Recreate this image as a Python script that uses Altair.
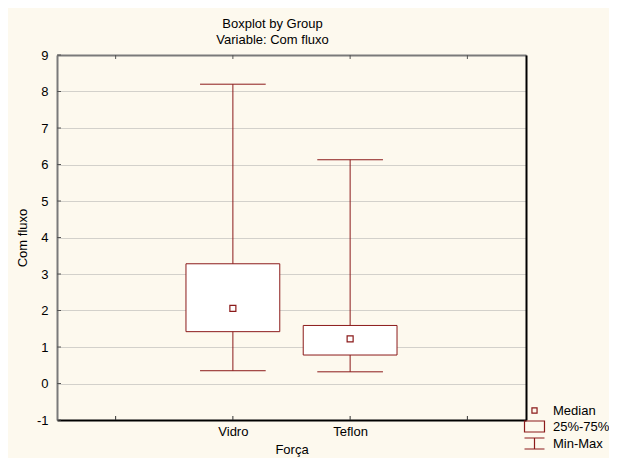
import altair as alt
import pandas as pd

# ---- data ----
groups = ["Vidro", "Teflon"]
mins = [0.35, 0.32]
q1s = [1.42, 0.78]
medians = [2.06, 1.22]
q3s = [3.28, 1.59]
maxs = [8.20, 6.13]

x_slots = ["", "Vidro", "Teflon", ""]          # category slots along the x axis
y_ticks = list(range(-1, 10))
legend_labels = ["Median", "25%-75%", "Min-Max"]

RED = "#8B1A1A"
FONT = "Liberation Sans"
BG = "#FDF9EE"

slot_pos = [i + 0.5 for i in range(len(x_slots))]
df = pd.DataFrame({
    "group": groups,
    "pos": [x_slots.index(g) + 0.5 for g in groups],
    "min": mins, "q1": q1s, "median": medians, "q3": q3s, "max": maxs,
})

xs = alt.Scale(domain=[0, len(x_slots)], nice=False, zero=False)
ys = alt.Scale(domain=[y_ticks[0], y_ticks[-1]], nice=False, zero=False)

label_expr = ""
for p, s in zip(slot_pos, x_slots):
    label_expr += f"datum.value == {p} ? '{s}' : "
label_expr += "''"

x_axis_main = alt.Axis(
    orient="bottom", values=slot_pos, labelExpr=label_expr, title="Força",
    ticks=False, grid=False, domainColor="#000000", domainWidth=2,
    labelFontSize=13, labelPadding=5, labelColor="#000", labelFont=FONT,
    titleFontSize=13, titleFontWeight="normal", titlePadding=5, titleColor="#000", titleFont=FONT,
)
y_axis_main = alt.Axis(
    orient="left", values=y_ticks, labelExpr="'' + datum.value", title="Com fluxo", ticks=False,
    grid=True, gridColor="#A8A8A8", gridDash=[1, 1], gridWidth=1,
    domainColor="#7A7A7A", domainWidth=2,
    labelFontSize=13, labelPadding=9, labelColor="#000", labelFont=FONT,
    titleFontSize=13, titleFontWeight="normal", titlePadding=7, titleColor="#000", titleFont=FONT,
)
x_axis_top = alt.Axis(orient="top", labels=False, ticks=False, title=None, grid=False,
                      domainColor="#7A7A7A", domainWidth=2)
y_axis_right = alt.Axis(orient="right", labels=False, ticks=False, title=None, grid=False,
                        domainColor="#000000", domainWidth=2)

base = alt.Chart(df)

whisker = base.mark_rule(color=RED, strokeWidth=1).encode(
    x=alt.X("pos:Q", scale=xs, axis=x_axis_main),
    y=alt.Y("min:Q", scale=ys, axis=y_axis_main),
    y2="max:Q",
)

box = base.transform_calculate(lo="datum.pos - 0.4", hi="datum.pos + 0.4").mark_bar(
    fill="white", stroke=RED, strokeWidth=1
).encode(
    x=alt.X("lo:Q", scale=xs, axis=x_axis_top),
    x2="hi:Q",
    y=alt.Y("q1:Q", scale=ys, axis=y_axis_right),
    y2="q3:Q",
)

caps_base = base.transform_calculate(clo="datum.pos - 0.28", chi="datum.pos + 0.28")
cap_min = caps_base.mark_rule(color=RED, strokeWidth=1).encode(
    x=alt.X("clo:Q", scale=xs, axis=None), x2="chi:Q",
    y=alt.Y("min:Q", scale=ys, axis=None),
)
cap_max = caps_base.mark_rule(color=RED, strokeWidth=1).encode(
    x=alt.X("clo:Q", scale=xs, axis=None), x2="chi:Q",
    y=alt.Y("max:Q", scale=ys, axis=None),
)

median = base.mark_square(size=36, filled=True, fill="white", stroke=RED,
                          strokeWidth=1.2, opacity=1).encode(
    x=alt.X("pos:Q", scale=xs, axis=None),
    y=alt.Y("median:Q", scale=ys, axis=None),
)

# inward tick marks on the frame
ytick_df = pd.DataFrame({"v": y_ticks})
xtick_df = pd.DataFrame({"v": slot_pos})
left_ticks = alt.Chart(ytick_df).mark_rule(color="#555555", strokeWidth=1, x2Offset=4).encode(
    x=alt.X(datum=0, scale=xs, axis=None), x2=alt.X2(datum=0),
    y=alt.Y("v:Q", scale=ys, axis=None),
)
top_ticks = alt.Chart(xtick_df).mark_rule(color="#555555", strokeWidth=1, y2Offset=4).encode(
    x=alt.X("v:Q", scale=xs, axis=None),
    y=alt.Y(datum=y_ticks[-1], scale=ys, axis=None), y2=alt.Y2(datum=y_ticks[-1]),
)
bottom_ticks = alt.Chart(xtick_df).mark_rule(color="#333333", strokeWidth=1, y2Offset=-4).encode(
    x=alt.X("v:Q", scale=xs, axis=None),
    y=alt.Y(datum=y_ticks[0], scale=ys, axis=None), y2=alt.Y2(datum=y_ticks[0]),
)

legend_paths = [
    "M-0.33,-0.33H0.33V0.33H-0.33Z",
    "M-1.29,-0.71H1.29V0.71H-1.29Z",
    "M-1.29,-0.71H1.29M0,-0.71V0.71M-1.29,0.71H1.29",
]
legend_layer = alt.Chart(pd.DataFrame({"k": legend_labels})).mark_point(
    opacity=0, filled=False, color=RED, strokeWidth=1.2
).encode(
    shape=alt.Shape(
        "k:N",
        scale=alt.Scale(domain=legend_labels, range=legend_paths),
        legend=alt.Legend(
            title=None, orient="none", legendX=469, legendY=347, padding=0,
            symbolSize=240, symbolOpacity=1, symbolStrokeColor=RED,
            symbolFillColor="transparent", symbolStrokeWidth=1.2,
            labelFontSize=13, labelFont=FONT, labelColor="#000",
            labelOffset=10, rowPadding=0,
        ),
    )
)

chart = alt.layer(
    whisker, box, cap_min, cap_max, median, left_ticks, top_ticks, bottom_ticks, legend_layer
).resolve_axis(x="independent", y="independent").properties(
    width=469, height=365,
    autosize=alt.AutoSizeParams(type="none"),
    padding={"left": 49, "top": 47, "right": 83, "bottom": 38},
    background=BG,
    title=alt.TitleParams(
        ["Boxplot by Group", "Variable: Com fluxo"], fontSize=13, fontWeight="normal",
        lineHeight=16, offset=2, dx=-19, anchor="middle", color="#000", font=FONT,
    ),
).configure_view(fill="white", stroke=None)

chart.save("out.html", embed_options={"renderer": "svg", "actions": False})
